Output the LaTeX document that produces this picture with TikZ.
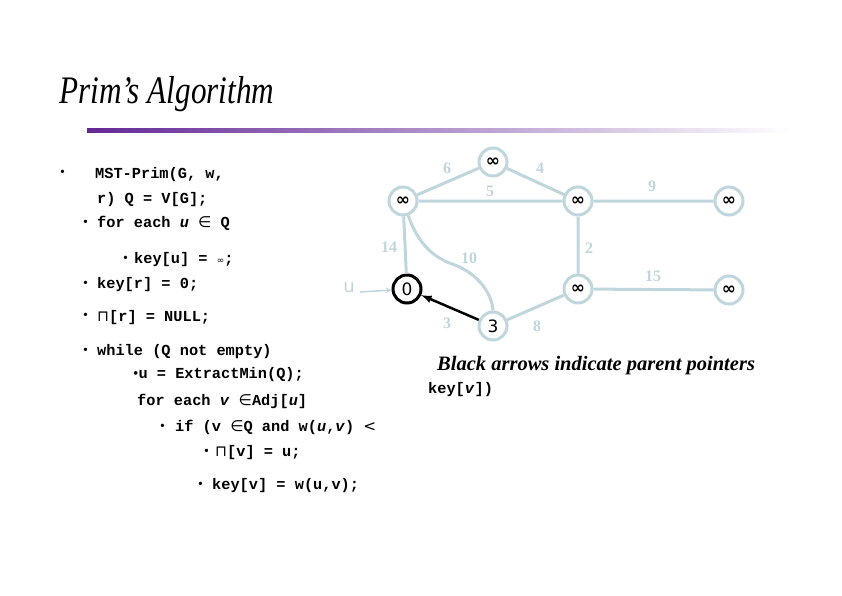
\documentclass[tikz,border=0pt]{standalone}
\usepackage{fontspec}
\setmainfont{Liberation Serif}
\setmonofont{Liberation Mono}
\newfontfamily\symf{DejaVu Sans}
\newcommand{\sy}[1]{{\normalfont\symf #1}}
\begin{document}
\begin{tikzpicture}[x=1pt,y=-1pt,
  vtx/.style={circle,draw=lb,line width=3pt,minimum size=28pt,inner sep=0pt,font=\symf\fontsize{17}{18}\selectfont},
  wt/.style={text=lb,font=\bfseries\fontsize{16}{18}\selectfont},
  ed/.style={draw=lb,line width=3pt},
  code/.style={anchor=base west,font=\ttfamily\bfseries\fontsize{15.3}{16}\selectfont,inner sep=0pt},
  bul/.style={anchor=base west,font=\fontsize{14}{14}\selectfont,inner sep=0pt}]
\definecolor{lb}{RGB}{190,214,220}
\definecolor{pur}{RGB}{100,40,150}
\useasboundingbox (0,0) rectangle (842,595);
\node[anchor=base west,font=\itshape\fontsize{39}{40}\selectfont,inner sep=0pt,xscale=0.8] (title) at (59,103) {Prim’s Algorithm};
\shade[left color=pur,right color=white] (87,128.5) rectangle (790,132.5);
% code
\node[bul] (b0) at (60,176) {•};
\node[code] (c1) at (95,178) {MST-Prim(G, w,};
\node[code] (c2) at (97,203) {r) Q = V[G];};
\node[bul] (b3) at (83,226) {•};
\node[code] (c3) at (97,227) {for each \textit{u} \sy{∈} Q};
\node[bul] (b4) at (123,262) {•};
\node[code] (c4) at (134,263) {key[u] = \sy{\small ∞};};
\node[bul] (b5) at (83,287) {•};
\node[code] (c5) at (97,288) {key[r] = 0;};
\node[bul] (b6) at (83,319) {•};
\node[code] (c6) at (97,321) {\sy{⊓}[r] = NULL;};
\node[bul] (b7) at (83,354) {•};
\node[code] (c7) at (97,355) {while (Q not empty)};
\node[code] (c8) at (133,378) {{\normalfont\rmfamily•}u = ExtractMin(Q);};
\node[code] (c9) at (137,405) {for each \textit{v} \sy{∈}Adj[\textit{u}]};
\node[bul] (b10) at (160,430) {•};
\node[code] (c10) at (175,431) {if (v \sy{∈}Q and w(\textit{u},\textit{v}) \sy{<}};
\node[bul] (b11) at (204,455) {•};
\node[code] (c11) at (215,456) {\sy{⊓}[v] = u;};
\node[bul] (b12) at (198,488) {•};
\node[code] (c12) at (212,489) {key[v] = w(u,v);};
\node[code] (c13) at (428,393) {key[\textit{v}])};
\node[anchor=base west,font=\itshape\bfseries\fontsize{20.5}{21}\selectfont,inner sep=0pt] (cap) at (437,370) {Black arrows indicate parent pointers};
% graph
\node[vtx] (t) at (493,162) {\bfseries ∞};
\node[vtx] (l) at (403,201) {\bfseries ∞};
\node[vtx] (m) at (578,201) {\bfseries ∞};
\node[vtx] (r) at (729,201) {\bfseries ∞};
\node[vtx,draw=black] (z) at (407,289) {0};
\node[vtx] (mb) at (578,289) {\bfseries ∞};
\node[vtx] (rb) at (729,290) {\bfseries ∞};
\node[vtx] (th) at (493,326) {3};
\draw[ed] (l) -- (t) (t) -- (m) (l) -- (m) (m) -- (r) (l) -- (z) (m) -- (mb) (mb) -- (rb) (th) -- (mb);
\draw[ed] (l.-70) .. controls (420,250) and (440,260) .. (455,265) .. controls (480,275) and (492,295) .. (th.north);
\draw[line width=2.5pt,-latex] (th) -- (z);
\coordinate (us) at (360,292);
\node[text=lb,font=\symf\fontsize{18}{20}\selectfont] (ul) at (349,288) {u};
\draw[draw=lb,line width=1.5pt,-stealth] (us) -- (z);
\node[wt] (w6) at (447,168) {6};
\node[wt] (w4) at (540,168) {4};
\node[wt] (w5) at (490,191) {5};
\node[wt] (w9) at (652,186) {9};
\node[wt] (w14) at (389,247) {14};
\node[wt] (w10) at (469,258) {10};
\node[wt] (w2) at (589,248) {2};
\node[wt] (w15) at (653,276) {15};
\node[wt] (w3) at (447,323) {3};
\node[wt] (w8) at (537,326) {8};
\end{tikzpicture}
\end{document}
